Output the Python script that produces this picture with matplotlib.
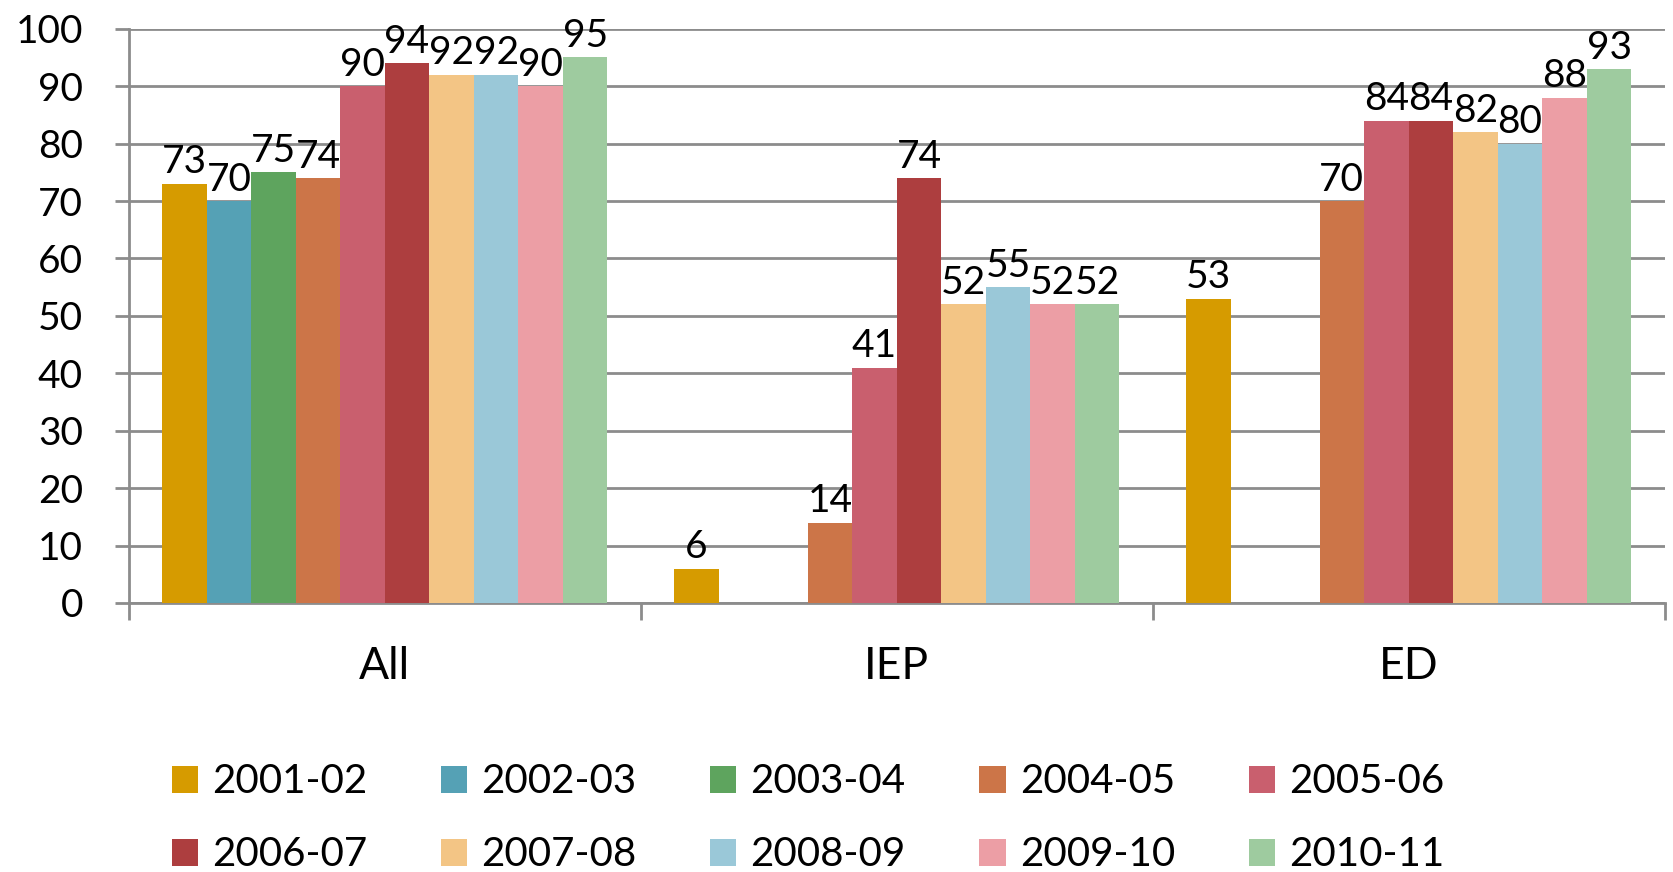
import numpy as np
import matplotlib.pyplot as plt

plt.rcParams['font.family'] = ['Lato', 'DejaVu Sans']

categories = ['All', 'IEP', 'ED']
years = ['2001-02', '2002-03', '2003-04', '2004-05', '2005-06',
         '2006-07', '2007-08', '2008-09', '2009-10', '2010-11']
nan = np.nan
values = [
    [73, 6, 53],      # 2001-02
    [70, nan, nan],   # 2002-03
    [75, nan, nan],   # 2003-04
    [74, 14, 70],     # 2004-05
    [90, 41, 84],     # 2005-06
    [94, 74, 84],     # 2006-07
    [92, 52, 82],     # 2007-08
    [92, 55, 80],     # 2008-09
    [90, 52, 88],     # 2009-10
    [95, 52, 93],     # 2010-11
]
colors = ['#D69B00', '#55A1B5', '#5EA45E', '#CC7548', '#C95F6E',
          '#AD3E3F', '#F3C585', '#9AC8D8', '#EC9EA5', '#9ECB9F']
gray = '#8c8c8c'

fig = plt.figure(figsize=(16.73, 8.72), dpi=100)
ax = fig.add_axes([0.077, 0.3085, 0.918, 0.6585])

x = np.arange(len(categories))
n = len(years)
w = 0.87 / n
handles = []
for i in range(n):
    pos = x - 0.435 + w * (i + 0.5)
    vals = np.array(values[i], dtype=float)
    b = ax.bar(pos, vals, width=w, color=colors[i], label=years[i], zorder=3)
    handles.append(b)
    for p, v in zip(pos, vals):
        if not np.isnan(v):
            ax.text(p, v + 0.6, '%d' % v, ha='center', va='bottom',
                    fontsize=28, zorder=4)

ax.set_xlim(-0.5, 2.5)
ax.set_ylim(0, 100)
ax.set_yticks(range(0, 101, 10))
ax.grid(axis='y', color=gray, linewidth=2, zorder=0)
ax.set_axisbelow(True)
for s in ['top', 'right']:
    ax.spines[s].set_visible(False)
for s in ['left', 'bottom']:
    ax.spines[s].set_color(gray)
    ax.spines[s].set_linewidth(2)
ax.tick_params(axis='y', length=10, width=2, color=gray, labelsize=28, pad=23)

# category labels between boundary ticks
ax.set_xticks([-0.5, 0.5, 1.5, 2.5])
ax.set_xticklabels([])
ax.tick_params(axis='x', length=12, width=2, color=gray, direction='out')
ax.set_xticks(x, minor=True)
ax.set_xticklabels(categories, minor=True, fontsize=32)
ax.tick_params(axis='x', which='minor', length=0, pad=31)

# row-wise legend order
order = [0, 5, 1, 6, 2, 7, 3, 8, 4, 9]
fig.legend([handles[k] for k in order], [years[k] for k in order],
           loc='lower left', bbox_to_anchor=(0.081, -0.043), ncol=5,
           frameon=False, fontsize=29, handlelength=0.65, handleheight=0.65,
           handletextpad=0.35, columnspacing=1.83, labelspacing=0.89)

fig.savefig('out.png', dpi=100)
